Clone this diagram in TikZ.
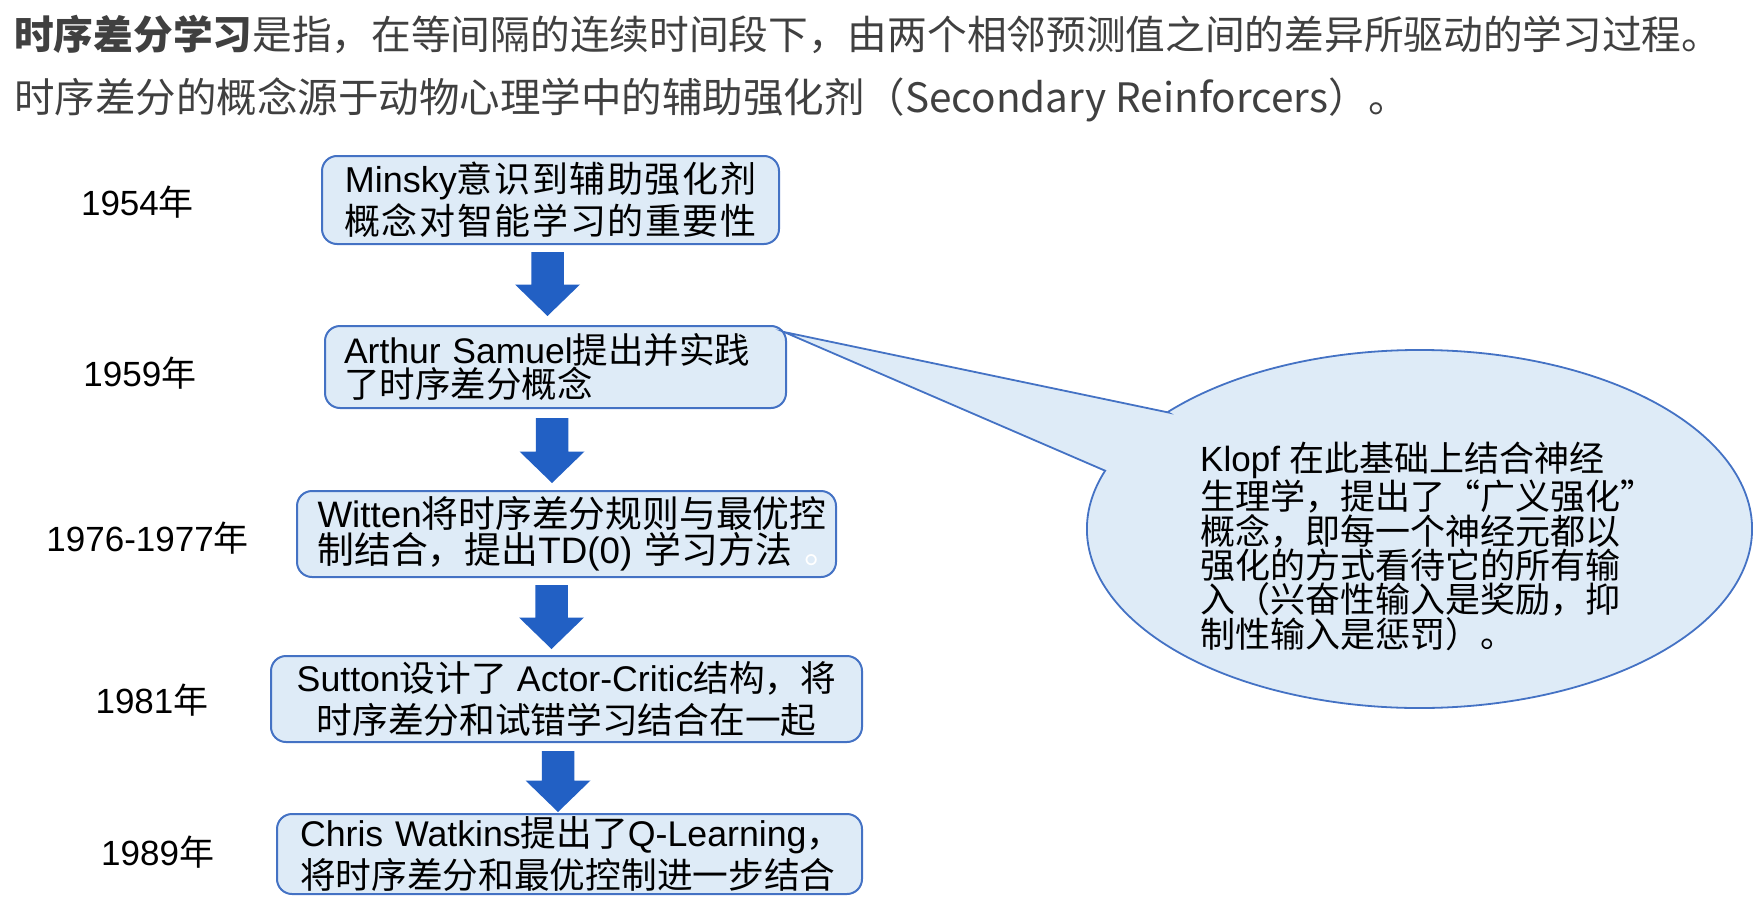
\documentclass[tikz,border=0pt]{standalone}
\usepackage{fontspec}
\usetikzlibrary{calc}
\newfontfamily\cjk{Noto Sans CJK SC}
\newfontfamily\cjkw[LetterSpace=4.5]{Noto Sans CJK SC}
\newfontfamily\ar{Liberation Sans}
\newcommand\latn[1]{{\ar #1}}
\definecolor{boxfill}{RGB}{222,235,247}
\definecolor{boxline}{RGB}{68,114,196}
\definecolor{arrowcol}{RGB}{34,96,196}
\definecolor{titlegrey}{RGB}{64,64,64}
\newcommand\blockarr[2]{\fill[arrowcol] let \p1=(#1), \p2=(#2) in
  (\x1-16.25pt,\y1) -- (\x1+16.25pt,\y1) -- (\x1+16.25pt,\y2+31.5pt) --
  (\x1+32.5pt,\y2+31.5pt) -- (\x1,\y2) -- (\x1-32.5pt,\y2+31.5pt) --
  (\x1-16.25pt,\y2+31.5pt) -- cycle;}
\tikzset{
  box/.style={draw=boxline, fill=boxfill, line width=2pt, rounded corners=15pt,
    inner ysep=0pt, text=black},
  year/.style={font=\ar\fontsize{35}{40}\selectfont, text=black, inner sep=0pt},
  titletext/.style={text=titlegrey, inner sep=0pt, anchor=west},
  callout/.style={draw=boxline, fill=boxfill, line width=1.8pt, line join=miter},
}
\begin{document}
\begin{tikzpicture}[x=1pt,y=-1pt]
\useasboundingbox (0,0) rectangle (1753,899);
% title
\node[titletext, font=\cjk\fontsize{39.7}{48}\selectfont] (t1) at (14,34) {{\bfseries 时序差分学习}是指，在等间隔的连续时间段下，由两个相邻预测值之间的差异所驱动的学习过程。};
\node[titletext, font=\cjk\fontsize{40.5}{48}\selectfont] (t2) at (14,100) {时序差分的概念源于动物心理学中的辅助强化剂（Secondary Reinforcers）。};
% years
\node[year] (y1) at (137.5,202) {1954{\cjk 年}};
\node[year] (y2) at (139.8,373) {1959{\cjk 年}};
\node[year] (y3) at (147.6,538) {1976-1977{\cjk 年}};
\node[year] (y4) at (152,700) {1981{\cjk 年}};
\node[year] (y5) at (157.6,852) {1989{\cjk 年}};
% boxes
\node[box, minimum width=457, minimum height=88, inner xsep=0pt, align=center,
  font=\cjkw\fontsize{36}{42}\selectfont] (b1) at (550.5,200)
  {\latn{Minsky}意识到辅助强化剂\\概念对智能学习的重要性};
\node[box, minimum height=82, inner xsep=19pt, text width=423pt, align=left,
  font=\cjk\fontsize{35.5}{34}\selectfont] (b2) at (555.5,367)
  {\mbox{\latn{Arthur Samuel}提出并实践}\\\mbox{了时序差分概念}\\[-6pt]};
\node[box, minimum height=86, inner xsep=20.5pt, text width=498pt, align=left,
  font=\cjk\fontsize{36.8}{36}\selectfont] (b3) at (566.5,534)
  {\mbox{\latn{Witten}将时序差分规则与最优控}\\\mbox{制结合，提出\latn{TD(0) }学习方法 {\color{white}。}}\\[-6pt]};
\node[box, minimum width=591, minimum height=86, inner xsep=0pt, align=center,
  font=\cjk\fontsize{35.7}{42.5}\selectfont] (b4) at (566.5,699)
  {\latn{Sutton}设计了\latn{ Actor-Critic}结构，将\\时序差分和试错学习结合在一起};
\node[box, minimum height=80, inner xsep=23pt, text width=539pt, align=left,
  font=\cjk\fontsize{35.7}{41.5}\selectfont] (b5) at (569.5,854)
  {\mbox{\latn{Chris Watkins}提出了\latn{Q-Learning}，}\\\mbox{将时序差分和最优控制进一步结合}};
% block arrows
\coordinate (a1s) at ($(b1.south)+(-3,7)$);
\coordinate (a1e) at ($(b2.north)+(-8,-9)$);
\coordinate (a2s) at ($(b2.south)+(-3.5,9)$);
\coordinate (a2e) at ($(b3.north)+(-14.5,-7)$);
\coordinate (a3s) at ($(b3.south)+(-15,7)$);
\coordinate (a3e) at ($(b4.north)+(-15,-6)$);
\coordinate (a4s) at ($(b4.south)+(-8.5,8)$);
\coordinate (a4e) at ($(b5.north)+(-11.5,-1)$);
\blockarr{a1s}{a1e}
\blockarr{a2s}{a2e}
\blockarr{a3s}{a3e}
\blockarr{a4s}{a4e}
% callout
\coordinate (ctip) at ($(b2.north east)+(-3,7)$);
\draw[callout] (1167.5,412.3) -- (ctip) -- (1105.1,470.7)
  arc[start angle=199, end angle=-139.3, x radius=332.5, y radius=179] -- cycle;
\node[anchor=north west, inner sep=0pt, align=left, text=black,
  font=\cjk\fontsize{35}{31.8}\selectfont] (klopf) at (1200,442)
  {\latn{Klopf }在此基础上结合神经\\生理学，提出了“广义强化”\\概念，即每一个神经元都以\\强化的方式看待它的所有输\\入（兴奋性输入是奖励，抑\\制性输入是惩罚）。};
\end{tikzpicture}
\end{document}
